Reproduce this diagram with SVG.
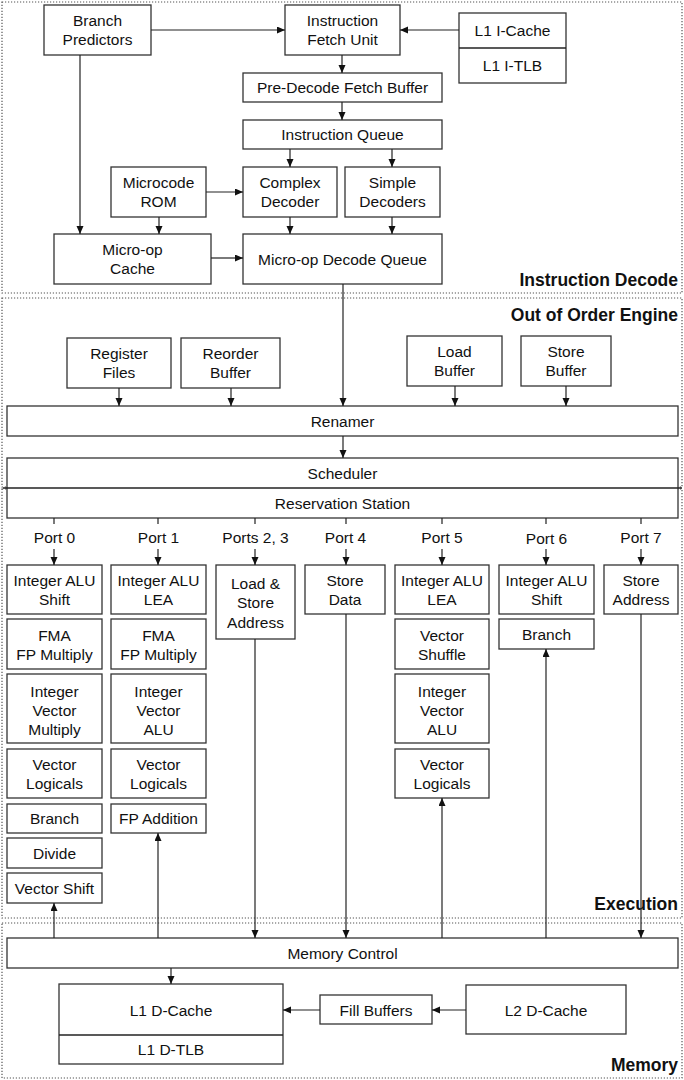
<svg xmlns="http://www.w3.org/2000/svg" width="684" height="1080" viewBox="0 0 684 1080">
<style>
.sec{fill:none;stroke:#555;stroke-width:1.2;stroke-dasharray:1.2,1.8}
.b{fill:#fff;stroke:#333;stroke-width:1.3}
.dv{stroke:#222;stroke-width:1.3}
text{font-family:"Liberation Sans",Arial,Helvetica,sans-serif;font-size:15.5px;fill:#111;text-anchor:middle}
.st{font-weight:bold;font-size:17.5px;text-anchor:end}
.c path{fill:none;stroke:#222;stroke-width:1.2}
.a{marker-end:url(#ah)}
</style>
<defs>
<marker id="ah" markerUnits="userSpaceOnUse" markerWidth="9" markerHeight="8" refX="8" refY="3.5" orient="auto"><path d="M0,0 L8,3.5 L0,7 z" fill="#111"/></marker>
</defs>
<rect x="0" y="0" width="684" height="1080" fill="#fff"/>
<g id="sections">
<rect class="sec" x="2" y="2" width="680" height="291"/>
<rect class="sec" x="2" y="298" width="680" height="189"/>
<rect class="sec" x="2" y="489" width="680" height="429"/>
<rect class="sec" x="2" y="923" width="680" height="155"/>
<text class="st" x="678" y="286">Instruction Decode</text>
<text class="st" x="678" y="321">Out of Order Engine</text>
<text class="st" x="678" y="910">Execution</text>
<text class="st" x="678" y="1071">Memory</text>
</g>
<g id="branch-predictors"><rect class="b" x="44" y="5" width="107" height="50"/><text x="97.5" y="26">Branch</text><text x="97.5" y="45">Predictors</text></g>
<g id="ifu"><rect class="b" x="285" y="5" width="115" height="50"/><text x="342.5" y="26">Instruction</text><text x="342.5" y="45">Fetch Unit</text></g>
<g id="l1i"><rect class="b" x="459" y="13" width="107" height="70"/><line class="dv" x1="459" y1="48" x2="566" y2="48"/><text x="512.5" y="36">L1 I-Cache</text><text x="512.5" y="71">L1 I-TLB</text></g>
<g id="pdfb"><rect class="b" x="243" y="73" width="199" height="29"/><text x="342.5" y="93">Pre-Decode Fetch Buffer</text></g>
<g id="iq"><rect class="b" x="243" y="120" width="199" height="29"/><text x="342.5" y="140">Instruction Queue</text></g>
<g id="mrom"><rect class="b" x="111" y="167" width="95" height="50"/><text x="158.5" y="188">Microcode</text><text x="158.5" y="207">ROM</text></g>
<g id="cdec"><rect class="b" x="243" y="167" width="94" height="50"/><text x="290" y="188">Complex</text><text x="290" y="207">Decoder</text></g>
<g id="sdec"><rect class="b" x="345" y="167" width="95" height="50"/><text x="392.5" y="188">Simple</text><text x="392.5" y="207">Decoders</text></g>
<g id="uopc"><rect class="b" x="54" y="234" width="157" height="50"/><text x="132.5" y="255">Micro-op</text><text x="132.5" y="274">Cache</text></g>
<g id="mdq"><rect class="b" x="243" y="234" width="199" height="50"/><text x="342.5" y="264.5">Micro-op Decode Queue</text></g>
<g id="regfiles"><rect class="b" x="67" y="338" width="104" height="50"/><text x="119" y="359">Register</text><text x="119" y="378">Files</text></g>
<g id="rob"><rect class="b" x="181" y="338" width="99" height="50"/><text x="230.5" y="359">Reorder</text><text x="230.5" y="378">Buffer</text></g>
<g id="lb"><rect class="b" x="407" y="336" width="95" height="50"/><text x="454.5" y="357">Load</text><text x="454.5" y="376">Buffer</text></g>
<g id="sb"><rect class="b" x="521" y="336" width="90" height="50"/><text x="566" y="357">Store</text><text x="566" y="376">Buffer</text></g>
<g id="renamer"><rect class="b" x="7" y="406" width="671" height="30"/><text x="342.5" y="426.5">Renamer</text></g>
<g id="scheduler"><rect class="b" x="7" y="458" width="671" height="60"/><line class="dv" x1="3" y1="488" x2="682" y2="488"/><text x="342.5" y="478.5">Scheduler</text><text x="342.5" y="508.5">Reservation Station</text></g>
<g id="port-labels">
<text x="54.5" y="542.5">Port 0</text><text x="158.5" y="542.5">Port 1</text><text x="255.5" y="542.5">Ports 2, 3</text><text x="345.5" y="542.5">Port 4</text><text x="442" y="542.5">Port 5</text><text x="546.5" y="543.5">Port 6</text><text x="641" y="542.5">Port 7</text>
</g>
<g id="port0">
<rect class="b" x="7" y="565" width="95" height="49"/><text x="54.5" y="586">Integer ALU</text><text x="54.5" y="605">Shift</text>
<rect class="b" x="7" y="619" width="95" height="50"/><text x="54.5" y="641">FMA</text><text x="54.5" y="660">FP Multiply</text>
<rect class="b" x="7" y="674" width="95" height="69"/><text x="54.5" y="696.5">Integer</text><text x="54.5" y="715.5">Vector</text><text x="54.5" y="734.5">Multiply</text>
<rect class="b" x="7" y="749" width="95" height="49"/><text x="54.5" y="770">Vector</text><text x="54.5" y="789">Logicals</text>
<rect class="b" x="7" y="804" width="95" height="29"/><text x="54.5" y="824">Branch</text>
<rect class="b" x="7" y="838" width="95" height="30"/><text x="54.5" y="858.5">Divide</text>
<rect class="b" x="7" y="873" width="95" height="30"/><text x="54.5" y="893.5">Vector Shift</text>
</g>
<g id="port1">
<rect class="b" x="111" y="565" width="95" height="49"/><text x="158.5" y="586">Integer ALU</text><text x="158.5" y="605">LEA</text>
<rect class="b" x="111" y="619" width="95" height="50"/><text x="158.5" y="641">FMA</text><text x="158.5" y="660">FP Multiply</text>
<rect class="b" x="111" y="674" width="95" height="69"/><text x="158.5" y="696.5">Integer</text><text x="158.5" y="715.5">Vector</text><text x="158.5" y="734.5">ALU</text>
<rect class="b" x="111" y="749" width="95" height="49"/><text x="158.5" y="770">Vector</text><text x="158.5" y="789">Logicals</text>
<rect class="b" x="111" y="804" width="95" height="29"/><text x="158.5" y="824">FP Addition</text>
</g>
<g id="port23"><rect class="b" x="216" y="565" width="79" height="74"/><text x="255.5" y="589">Load &amp;</text><text x="255.5" y="608">Store</text><text x="255.5" y="627.5">Address</text></g>
<g id="port4"><rect class="b" x="305" y="565" width="80" height="49"/><text x="345" y="586">Store</text><text x="345" y="605">Data</text></g>
<g id="port5">
<rect class="b" x="395" y="565" width="94" height="49"/><text x="442" y="586">Integer ALU</text><text x="442" y="605">LEA</text>
<rect class="b" x="395" y="619" width="94" height="50"/><text x="442" y="641">Vector</text><text x="442" y="660">Shuffle</text>
<rect class="b" x="395" y="674" width="94" height="69"/><text x="442" y="696.5">Integer</text><text x="442" y="715.5">Vector</text><text x="442" y="734.5">ALU</text>
<rect class="b" x="395" y="749" width="94" height="49"/><text x="442" y="770">Vector</text><text x="442" y="789">Logicals</text>
</g>
<g id="port6">
<rect class="b" x="499" y="565" width="95" height="49"/><text x="546.5" y="586">Integer ALU</text><text x="546.5" y="605">Shift</text>
<rect class="b" x="499" y="619" width="95" height="30"/><text x="546.5" y="640">Branch</text>
</g>
<g id="port7"><rect class="b" x="604" y="565" width="74" height="49"/><text x="641" y="586">Store</text><text x="641" y="605">Address</text></g>
<g id="memctrl"><rect class="b" x="7" y="938" width="671" height="30"/><text x="342.5" y="958.5">Memory Control</text></g>
<g id="l1d"><rect class="b" x="59" y="984" width="224" height="80"/><line class="dv" x1="59" y1="1035" x2="283" y2="1035"/><text x="171" y="1015.5">L1 D-Cache</text><text x="171" y="1055">L1 D-TLB</text></g>
<g id="fill"><rect class="b" x="320" y="995" width="112" height="29"/><text x="376" y="1015.5">Fill Buffers</text></g>
<g id="l2d"><rect class="b" x="466" y="985" width="160" height="49"/><text x="546" y="1015.5">L2 D-Cache</text></g>
<g class="c" id="connectors">
<path class="a" d="M151,30 H285"/>
<path class="a" d="M459,30 H400"/>
<path class="a" d="M342,55 V73"/>
<path class="a" d="M342,102 V120"/>
<path class="a" d="M290,149 V167"/>
<path class="a" d="M392,149 V167"/>
<path class="a" d="M206,192 H243"/>
<path class="a" d="M159,217 V234"/>
<path class="a" d="M80,55 V234"/>
<path class="a" d="M290,217 V234"/>
<path class="a" d="M392,217 V234"/>
<path class="a" d="M211,258 H243"/>
<path class="a" d="M343,284 V406"/>
<path class="a" d="M119,388 V406"/>
<path class="a" d="M231,388 V406"/>
<path class="a" d="M455,386 V406"/>
<path class="a" d="M566,386 V406"/>
<path class="a" d="M343,436 V458"/>
<path d="M54,518 V524 M158,518 V524 M255,518 V524 M346,518 V524 M442,518 V524 M546,518 V524 M641,518 V524"/>
<path class="a" d="M54,549 V565"/>
<path class="a" d="M158,549 V565"/>
<path class="a" d="M255,549 V565"/>
<path class="a" d="M346,549 V565"/>
<path class="a" d="M442,549 V565"/>
<path class="a" d="M546,549 V565"/>
<path class="a" d="M641,549 V565"/>
<path class="a" d="M54,938 V903"/>
<path class="a" d="M158,938 V833"/>
<path class="a" d="M255,639 V938"/>
<path class="a" d="M346,614 V938"/>
<path class="a" d="M442,938 V798"/>
<path class="a" d="M546,938 V649"/>
<path class="a" d="M641,614 V938"/>
<path class="a" d="M171,968 V984"/>
<path class="a" d="M320,1010 H283"/>
<path class="a" d="M466,1010 H432"/>
</g>
</svg>
